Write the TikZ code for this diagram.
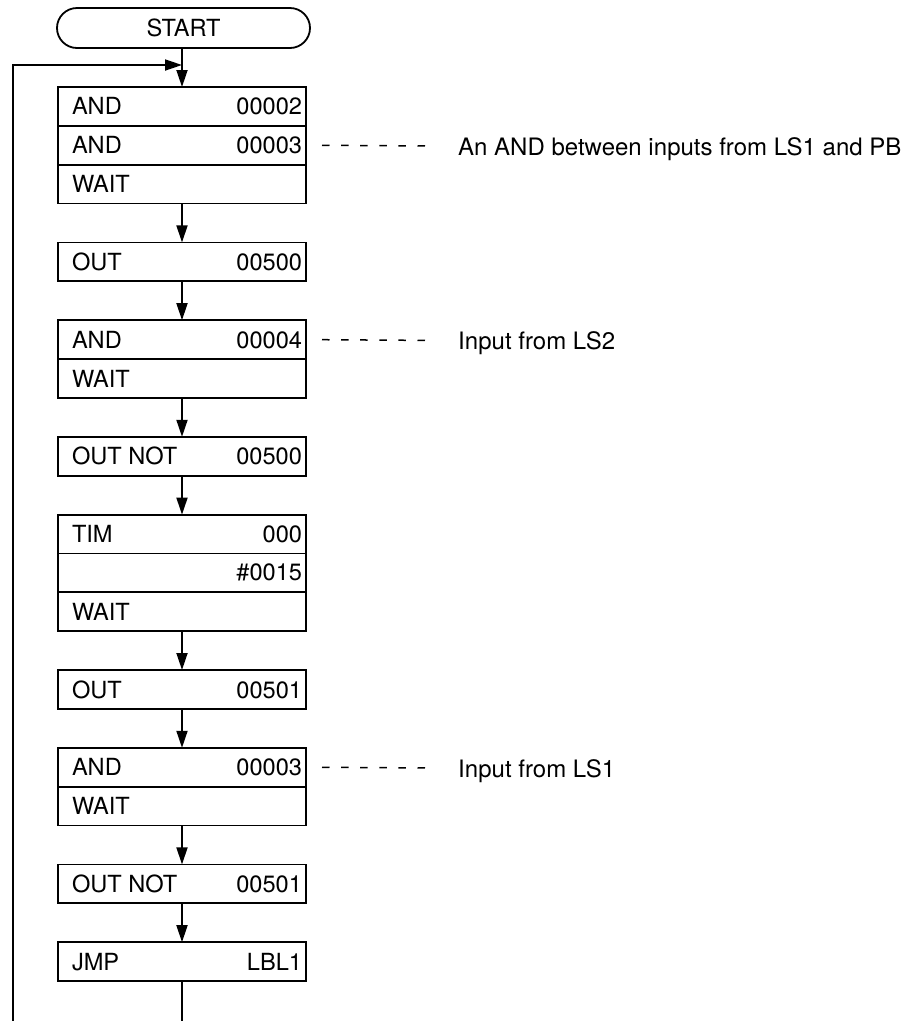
\documentclass[tikz,border=0pt]{standalone}
\usepackage{fontspec}
\setmainfont{TeX Gyre Heros}
\usetikzlibrary{arrows.meta}
\begin{document}
\begin{tikzpicture}[x=1pt,y=-1pt,
  font=\fontsize{23.6}{28}\selectfont,
  row/.style={draw,line width=1.8pt,minimum width=248pt,minimum height=38.8pt,inner sep=0pt,outer sep=0pt},
  term/.style={draw,line width=1.8pt,rounded corners=20pt,minimum width=253pt,minimum height=40pt,inner sep=0pt},
  arr/.style={line width=1.8pt,-{Triangle[length=17pt,width=11pt]}},
  link/.style={line width=1.8pt},
  dashline/.style={line width=1.5pt,dash pattern=on 7.5pt off 11.6pt},
  note/.style={anchor=west,inner sep=0pt,text depth=0pt,font=\fontsize{24}{28}\selectfont}]
\useasboundingbox (0,0) rectangle (913,1021);
\newcommand{\rowtxt}[2]{\makebox[248pt]{\hspace{14pt}#1\hfill#2\hspace{4pt}}}
% start
\node[term] (start) at (183.5,28) {START};
% box 1
\node[row] (b1a) at (182,106.4) {\rowtxt{AND}{00002}};
\node[row] (b1b) at (182,145.2) {\rowtxt{AND}{00003}};
\node[row] (b1c) at (182,184.0) {\rowtxt{WAIT}{}};
% box 2
\node[row] (b2a) at (182,261.8) {\rowtxt{OUT}{00500}};
% box 3
\node[row] (b3a) at (182,339.6) {\rowtxt{AND}{00004}};
\node[row] (b3b) at (182,378.4) {\rowtxt{WAIT}{}};
% box 4
\node[row] (b4a) at (182,456.2) {\rowtxt{OUT NOT}{00500}};
% box 5
\node[row] (b5a) at (182,534.0) {\rowtxt{TIM}{000}};
\node[row] (b5b) at (182,572.8) {\rowtxt{}{\#0015}};
\node[row] (b5c) at (182,611.6) {\rowtxt{WAIT}{}};
% box 6
\node[row] (b6a) at (182,689.4) {\rowtxt{OUT}{00501}};
% box 7
\node[row] (b7a) at (182,767.2) {\rowtxt{AND}{00003}};
\node[row] (b7b) at (182,806.0) {\rowtxt{WAIT}{}};
% box 8
\node[row] (b8a) at (182,883.8) {\rowtxt{OUT NOT}{00501}};
% box 9
\node[row] (b9a) at (182,961.6) {\rowtxt{JMP}{LBL1}};
% notes
\node[note] (c1) at (458,146.2) {An AND between inputs from LS1 and PB};
\node[note] (c2) at (458,340.6) {Input from LS2};
\node[note] (c3) at (458,768.2) {Input from LS1};
\draw[dashline,shorten <=16pt,shorten >=33pt] (b1b.east) -- (c1.west);
\draw[dashline,shorten <=16pt,shorten >=33pt] (b3a.east) -- (c2.west);
\draw[dashline,shorten <=16pt,shorten >=33pt] (b7a.east) -- (c3.west);
% flow
\draw[arr] (start.south -| b1a.north) -- (b1a.north);
\draw[arr] (b1c.south) -- (b2a.north);
\draw[arr] (b2a.south) -- (b3a.north);
\draw[arr] (b3b.south) -- (b4a.north);
\draw[arr] (b4a.south) -- (b5a.north);
\draw[arr] (b5c.south) -- (b6a.north);
\draw[arr] (b6a.south) -- (b7a.north);
\draw[arr] (b7b.south) -- (b8a.north);
\draw[arr] (b8a.south) -- (b9a.north);
% loop
\coordinate (endj) at (182,1021);
\coordinate (loopb) at (13,1021);
\coordinate (join) at (182,65);
\draw[link] (b9a.south) -- (endj);
\draw[arr] (loopb) |- (join);
\end{tikzpicture}
\end{document}
